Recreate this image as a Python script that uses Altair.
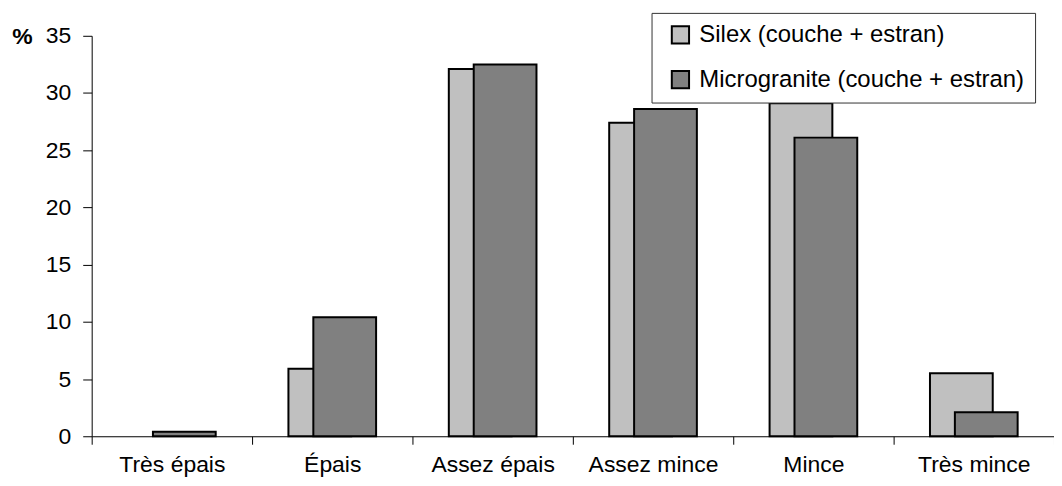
import altair as alt
import pandas as pd

categories = ["Très épais", "Épais", "Assez épais", "Assez mince", "Mince", "Très mince"]
series_names = ["Silex (couche + estran)", "Microgranite (couche + estran)"]
silex = [0.0, 5.9, 32.1, 27.4, 29.1, 5.5]
micro = [0.4, 10.4, 32.5, 28.6, 26.1, 2.1]
y_ticks = [0, 5, 10, 15, 20, 25, 30, 35]
colors = ["#C0C0C0", "#808080"]

rows = []
for c, v in zip(categories, silex):
    rows.append({"cat": c, "series": series_names[0], "val": v})
for c, v in zip(categories, micro):
    rows.append({"cat": c, "series": series_names[1], "val": v})
df = pd.DataFrame(rows)

FONT = "Liberation Sans"

x_enc = alt.X(
    "cat:N",
    sort=categories,
    scale=alt.Scale(paddingInner=0, paddingOuter=0),
    axis=alt.Axis(
        title=None,
        labelAngle=0,
        grid=False,
        tickBand="extent",
        tickSize=8,
        tickColor="black",
        domainColor="black",
        labelColor="black",
        labelFontSize=23,
        labelFont=FONT,
        labelPadding=9,
    ),
)
y_enc = alt.Y(
    "val:Q",
    scale=alt.Scale(domain=[0, 35], nice=False),
    axis=alt.Axis(
        values=y_ticks,
        grid=False,
        tickSize=9,
        tickColor="black",
        domainColor="black",
        labelColor="black",
        labelFontSize=23,
        labelFont=FONT,
        labelPadding=12,
        title="%",
        titleAngle=0,
        titleFont=FONT,
        titleFontSize=23,
        titleFontWeight="bold",
        titleColor="black",
        titleX=-70,
        titleY=1,
        titleAlign="center",
        titleBaseline="middle",
    ),
)
color_enc = alt.Color(
    "series:N",
    scale=alt.Scale(domain=series_names, range=colors),
    sort=series_names,
    legend=alt.Legend(
        title=None,
        orient="none",
        legendX=562,
        legendY=-23,
        fillColor="white",
        strokeColor="#333333",
        padding=10,
        symbolType="square",
        symbolSize=300,
        symbolStrokeColor="black",
        symbolStrokeWidth=2,
        symbolOpacity=1,
        symbolOffset=7,
        labelOffset=7,
        labelFontSize=24,
        labelFont=FONT,
        labelColor="black",
        rowPadding=19,
        labelLimit=700,
    ),
)

base = alt.Chart(df)
silex_layer = base.transform_filter(
    (alt.datum.series == series_names[0]) & (alt.datum.val > 0)
).mark_bar(
    width=63, xOffset=-12.5, stroke="black", strokeWidth=2, opacity=1
).encode(x=x_enc, y=y_enc, color=color_enc)
micro_layer = base.transform_filter(
    (alt.datum.series == series_names[1]) & (alt.datum.val > 0)
).mark_bar(
    width=63, xOffset=12.5, stroke="black", strokeWidth=2, opacity=1
).encode(x=x_enc, y=y_enc, color=color_enc)

chart = alt.layer(silex_layer, micro_layer).properties(
    width=966,
    height=402,
    autosize=alt.AutoSizeParams(type="none"),
    padding={"left": 84, "top": 27, "right": 0, "bottom": 40},
).configure(font=FONT, background="white").configure_view(stroke=None)

chart.save("out.html", embed_options={"renderer": "svg", "actions": False})
